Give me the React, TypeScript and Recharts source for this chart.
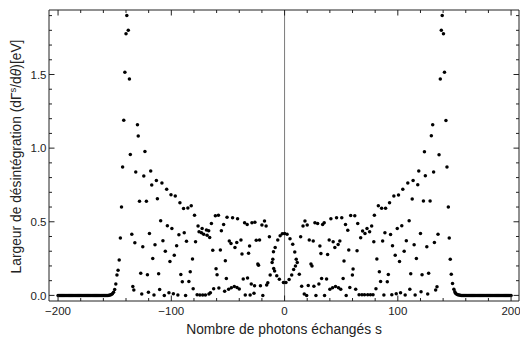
import React from 'react';
import { ScatterChart, Scatter, XAxis, YAxis, ReferenceLine } from 'recharts';

// ---- data: photon number s and decay width (eV) ----
const tailLeftS = [-200, -199, -198, -197, -196, -195, -194, -193, -192, -191, -190, -189, -188, -187, -186, -185, -184, -183, -182, -181, -180, -179, -178, -177, -176, -175, -174, -173, -172, -171, -170, -169, -168, -167, -166, -165, -164, -163, -162, -161, -160, -159, -158, -157, -156, -155, -154, -153, -152, -151];
const tailLeftW = [0, 0, 0, 0, 0, 0, 0, 0, 0, 0, 0, 0, 0, 0, 0, 0, 0, 0, 0, 0, 0, 0, 0, 0, 0, 0, 0, 0, 0, 0, 0, 0, 0, 0, 0, 0, 0, 0, 0, 0, 0, 0, 0, 0, 0, 0.001, 0.003, 0.006, 0.012, 0.022];

const leftS = [-150, -149, -148, -147, -146, -145, -144, -143, -142, -141, -140, -139.3, -138, -137, -136.2, -134.9, -134, -133.1, -132.2, -131.4, -129.9, -129.2, -128.1, -127, -126.1, -125.2, -124.3, -123.3, -122, -121.1, -120.2, -119.3, -118.2, -117.3, -116.4, -115.3, -114.4, -113.2, -112.3, -111.2, -110.3, -109.4, -108.3, -107.4, -106.2, -105.3, -104.1, -103.5, -102.1, -101.2, -100.3, -99.5, -98.2, -97.4, -96.5, -95.3, -94.2, -93.3, -92.4, -91.6, -90.3, -89.2, -88.6, -87.4, -86.6, -85.4, -84.5, -83.3, -82.4, -81.3, -80.7, -79.5, -78.6, -77.2, -76.4, -75.5, -74.8, -73.4, -72.8, -72.3, -71.4, -69.9, -69, -68.4, -67, -66.8, -66.1, -65.5, -64.6, -63.4, -62.6, -61.1, -60.5, -59.6, -58.4, -58, -56.7, -55.8, -53.8, -52.9, -52.3, -51.4, -50.8, -49.4, -48.8, -47.3, -47, -45.9, -44.4, -43.8, -42.2, -42, -41.5, -40, -38.5, -37.6, -36.5, -35.3, -34.7, -33, -32.7, -31.8, -30.9, -30.4, -29.4, -28.8, -27, -26.5, -26.2, -25, -23.6, -23, -22.1, -21.3, -20, -19.2, -17.7, -16.3, -15.8, -14.8, -13.4, -12.7, -11, -10.4, -9.8, -9.6, -8.8, -8.3, -6.9, -6, -4.6, -3.9, -2, -1, 0];
const leftW = [0.04, 0.077, 0.138, 0.17, 0.24, 0.39, 0.6, 0.872, 1.19, 1.515, 1.777, 1.9, 1.8, 1.469, 0.957, 0.416, 0.061, 0.036, 0.358, 0.838, 1.159, 1.082, 0.64, 0.151, 0.009, 0.33, 0.81, 0.977, 0.64, 0.14, 0.022, 0.421, 0.845, 0.75, 0.251, 0.002, 0.344, 0.78, 0.656, 0.147, 0.04, 0.507, 0.763, 0.371, 0, 0.299, 0.72, 0.473, 0.018, 0.231, 0.683, 0.455, 0.011, 0.272, 0.675, 0.337, 0.002, 0.412, 0.63, 0.142, 0.093, 0.59, 0.425, 0, 0.367, 0.593, 0.095, 0.16, 0.609, 0.247, 0.045, 0.545, 0.364, 0.004, 0.472, 0.432, 0.002, 0.425, 0.455, 0.002, 0.416, 0.002, 0.444, 0.408, 0.439, 0.009, 0.394, 0.018, 0.489, 0.306, 0.045, 0.541, 0.181, 0.14, 0.545, 0.05, 0.308, 0.439, 0.482, 0.029, 0.235, 0.115, 0.53, 0.041, 0.369, 0.353, 0.052, 0.527, 0.061, 0.326, 0.36, 0.054, 0.52, 0.043, 0.376, 0.281, 0.111, 0.493, 0.002, 0.482, 0.118, 0.287, 0.335, 0.002, 0.077, 0.493, 0.014, 0.065, 0.496, 0.374, 0.213, 0.204, 0.376, 0.065, 0.478, 0, 0.505, 0.471, 0.07, 0.086, 0.398, 0.138, 0.224, 0.245, 0.296, 0.183, 0.165, 0.326, 0.133, 0.376, 0.109, 0.405, 0.418, 0.088, 0.421];

const rightS = [1.2, 2.2, 4, 4.8, 6.3, 7.2, 8, 9, 9.6, 10.3, 11.2, 13, 14.2, 15.1, 16.3, 17.4, 18, 19.5, 20, 20.9, 21.8, 23.3, 24.2, 25.3, 25.9, 26.8, 27.7, 29.2, 30.3, 31.2, 32.1, 32.7, 33.6, 35, 35.3, 37.1, 38, 39.4, 40, 40.9, 42.4, 42.9, 44.4, 45, 45.9, 47.3, 47.6, 48.8, 49.6, 50.5, 51.7, 52.5, 53.8, 54.4, 55.8, 56.7, 57.6, 58.4, 59.9, 60.5, 62, 62.8, 64, 64.6, 65.8, 67.2, 68.3, 68.9, 70.6, 71, 72.8, 73.4, 75.1, 75.8, 76.9, 78.1, 78.8, 79.3, 80.7, 81.5, 82.8, 83.7, 84.8, 85.7, 86.6, 87.7, 88.6, 89.2, 90.7, 91.6, 92.7, 93.6, 94.7, 95.3, 96.5, 97.7, 98.6, 99.5, 100.6, 101.5, 102.4, 103.5, 104.4, 105.6, 106.5, 107.5, 108.8, 110, 110.6, 111.4, 112.7, 113.5, 114.4, 115.3, 116.4, 117.6, 118.5, 120, 120.5, 121.4, 122.6, 123.5, 124.3, 125.6, 126.4, 127.2, 128.5, 129.6, 130.8, 131.6, 132.3, 133.4, 134.6, 135.5, 136.4, 137.5, 138.4, 139.2, 140.3, 141.2, 142.5, 143.4, 144.6, 145.4, 146.3, 147.2, 148.3, 149.5, 150.3];
const rightW = [0.088, 0.416, 0.108, 0.384, 0.138, 0.348, 0.176, 0.295, 0.2, 0.245, 0.224, 0.143, 0.398, 0.063, 0.471, 0.009, 0.505, 0, 0.478, 0.068, 0.376, 0.213, 0.199, 0.369, 0.063, 0.493, 0, 0.489, 0.077, 0.335, 0.285, 0.115, 0.482, 0.493, 0, 0.111, 0.278, 0.376, 0.041, 0.52, 0.052, 0.364, 0.326, 0.061, 0.527, 0.346, 0.052, 0.369, 0.041, 0.527, 0.115, 0.233, 0.482, 0, 0.442, 0.308, 0.054, 0.543, 0.138, 0.179, 0.541, 0.041, 0.303, 0.489, 0.005, 0.392, 0.005, 0.437, 0.005, 0.421, 0.455, 0.005, 0.432, 0.005, 0.471, 0.005, 0.364, 0.545, 0.045, 0.247, 0.609, 0.16, 0.095, 0.591, 0.369, 0.002, 0.425, 0.591, 0.093, 0.142, 0.629, 0.414, 0.005, 0.337, 0.675, 0.272, 0.011, 0.455, 0.681, 0.231, 0.018, 0.473, 0.72, 0.299, 0.002, 0.371, 0.763, 0.507, 0.041, 0.147, 0.654, 0.781, 0.344, 0.002, 0.251, 0.751, 0.845, 0.421, 0.025, 0.14, 0.641, 0.976, 0.812, 0.33, 0.009, 0.151, 0.641, 1.084, 1.159, 0.838, 0.36, 0.036, 0.058, 0.416, 0.955, 1.469, 1.8, 1.9, 1.777, 1.515, 1.188, 0.872, 0.6, 0.39, 0.245, 0.143, 0.08, 0.042, 0.024];

const tailRightS = [151, 152, 153, 154, 155, 156, 157, 158, 159, 160, 161, 162, 163, 164, 165, 166, 167, 168, 169, 170, 171, 172, 173, 174, 175, 176, 177, 178, 179, 180, 181, 182, 183, 184, 185, 186, 187, 188, 189, 190, 191, 192, 193, 194, 195, 196, 197, 198, 199, 200];
const tailRightW = [0.014, 0.007, 0.004, 0.002, 0.001, 0, 0, 0, 0, 0, 0, 0, 0, 0, 0, 0, 0, 0, 0, 0, 0, 0, 0, 0, 0, 0, 0, 0, 0, 0, 0, 0, 0, 0, 0, 0, 0, 0, 0, 0, 0, 0, 0, 0, 0, 0, 0, 0, 0, 0];

// ---- ticks ----
const xTicks = [-200, -180, -160, -140, -120, -100, -80, -60, -40, -20, 0, 20, 40, 60, 80, 100, 120, 140, 160, 180, 200];
const xMajorTicks = [-200, -100, 0, 100, 200];
const xMajorLabels = ['\u2212200', '\u2212100', '0', '100', '200'];
const yTicks = [0, 0.1, 0.2, 0.3, 0.4, 0.5, 0.6, 0.7, 0.8, 0.9, 1.0, 1.1, 1.2, 1.3, 1.4, 1.5, 1.6, 1.7, 1.8, 1.9];
const yMajorTicks = [0, 0.5, 1.0, 1.5];
const yMajorLabels = ['0.0', '0.5', '1.0', '1.5'];

const FONT = '"Liberation Sans", Arial, Helvetica, sans-serif';
const FRAME = '#222';
const TEXT = '#222';
const MAJOR = 5.5;
const MINOR = 3;

const majorIndex = (arr: number[], v: number) => arr.findIndex((m) => Math.abs(m - v) < 1e-9);

const BottomTick = (p: any) => {
  const i = majorIndex(xMajorTicks, p.payload.value);
  return (
    <g>
      <line x1={p.x} x2={p.x} y1={p.y} y2={p.y - (i >= 0 ? MAJOR : MINOR)} stroke={FRAME} strokeWidth={1} />
      {i >= 0 && (
        <text x={p.x} y={p.y + 14} textAnchor="middle" fontSize={11.5} fontFamily={FONT} fill={TEXT}>
          {xMajorLabels[i]}
        </text>
      )}
    </g>
  );
};

const TopTick = (p: any) => {
  const i = majorIndex(xMajorTicks, p.payload.value);
  return <line x1={p.x} x2={p.x} y1={p.y} y2={p.y + (i >= 0 ? MAJOR : MINOR)} stroke={FRAME} strokeWidth={1} />;
};

const LeftTick = (p: any) => {
  const i = majorIndex(yMajorTicks, p.payload.value);
  return (
    <g>
      <line x1={p.x} x2={p.x + (i >= 0 ? MAJOR : MINOR)} y1={p.y} y2={p.y} stroke={FRAME} strokeWidth={1} />
      {i >= 0 && (
        <text x={p.x - 2.5} y={p.y} dy="0.36em" textAnchor="end" fontSize={11.5} fontFamily={FONT} fill={TEXT}>
          {yMajorLabels[i]}
        </text>
      )}
    </g>
  );
};

const RightTick = (p: any) => {
  const i = majorIndex(yMajorTicks, p.payload.value);
  return <line x1={p.x} x2={p.x - (i >= 0 ? MAJOR : MINOR)} y1={p.y} y2={p.y} stroke={FRAME} strokeWidth={1} />;
};

const XLabel = (p: any) => {
  const vb = p.viewBox || { x: 49, y: 301, width: 470, height: 39 };
  return (
    <text x={vb.x + vb.width / 2} y={vb.y + 33} textAnchor="middle" fontSize={13.8} fontFamily={FONT} fill={TEXT}>
      Nombre de photons échangés s
    </text>
  );
};

const YLabel = (p: any) => {
  const vb = p.viewBox || { x: 0, y: 10, width: 49, height: 291 };
  const cy = vb.y + vb.height / 2 + 1;
  return (
    <text transform={`translate(21,${cy}) rotate(-90)`} textAnchor="middle" fontSize={13.8} fontFamily={FONT} fill={TEXT}>
      Largeur de désintégration (dΓ
      <tspan dy={-5} fontSize={9.5}>s</tspan>
      <tspan dy={5}>/d</tspan>
      <tspan fontStyle="italic">θ</tspan>
      )[eV]
    </text>
  );
};

const Dot = (p: any) => <circle cx={p.cx} cy={p.cy} r={1.75} fill="#000" />;

const toPoints = (xs: number[], ws: number[]) => xs.map((s, i) => ({ s, w: ws[i] }));

const data = [
  ...toPoints(tailLeftS, tailLeftW),
  ...toPoints(leftS, leftW),
  ...toPoints(rightS, rightW),
  ...toPoints(tailRightS, tailRightW),
];

const X_DOMAIN: [number, number] = [-208, 207];
const Y_DOMAIN: [number, number] = [-0.038, 1.938];

export default function App() {
  return (
    <div style={{ position: 'absolute', left: 0, top: 0, width: 520, height: 340, background: '#fff' }}>
      <ScatterChart width={520} height={340} margin={{ top: 9, right: 0, bottom: 0, left: 0 }}>
        <XAxis
          xAxisId="b"
          type="number"
          dataKey="s"
          domain={X_DOMAIN}
          allowDataOverflow
          ticks={xTicks}
          interval={0}
          height={39}
          tickSize={0}
          tickMargin={0}
          tickLine={false}
          axisLine={{ stroke: FRAME }}
          tick={(p: any) => <BottomTick {...p} />}
          label={(p: any) => <XLabel {...p} />}
        />
        <XAxis
          xAxisId="t"
          orientation="top"
          type="number"
          dataKey="s"
          domain={X_DOMAIN}
          allowDataOverflow
          ticks={xTicks}
          interval={0}
          height={1}
          tickSize={0}
          tickMargin={0}
          tickLine={false}
          axisLine={{ stroke: FRAME }}
          tick={(p: any) => <TopTick {...p} />}
        />
        <YAxis
          yAxisId="l"
          type="number"
          dataKey="w"
          domain={Y_DOMAIN}
          allowDataOverflow
          ticks={yTicks}
          interval={0}
          width={49}
          tickSize={0}
          tickMargin={0}
          tickLine={false}
          axisLine={{ stroke: FRAME }}
          tick={(p: any) => <LeftTick {...p} />}
          label={(p: any) => <YLabel {...p} />}
        />
        <YAxis
          yAxisId="r"
          orientation="right"
          type="number"
          dataKey="w"
          domain={Y_DOMAIN}
          allowDataOverflow
          ticks={yTicks}
          interval={0}
          width={1}
          tickSize={0}
          tickMargin={0}
          tickLine={false}
          axisLine={{ stroke: FRAME }}
          tick={(p: any) => <RightTick {...p} />}
        />
        <ReferenceLine xAxisId="b" yAxisId="l" x={0} stroke="#7a7a7a" strokeWidth={1} />
        <Scatter xAxisId="b" yAxisId="l" data={data} isAnimationActive={false} shape={Dot} />
      </ScatterChart>
    </div>
  );
}
